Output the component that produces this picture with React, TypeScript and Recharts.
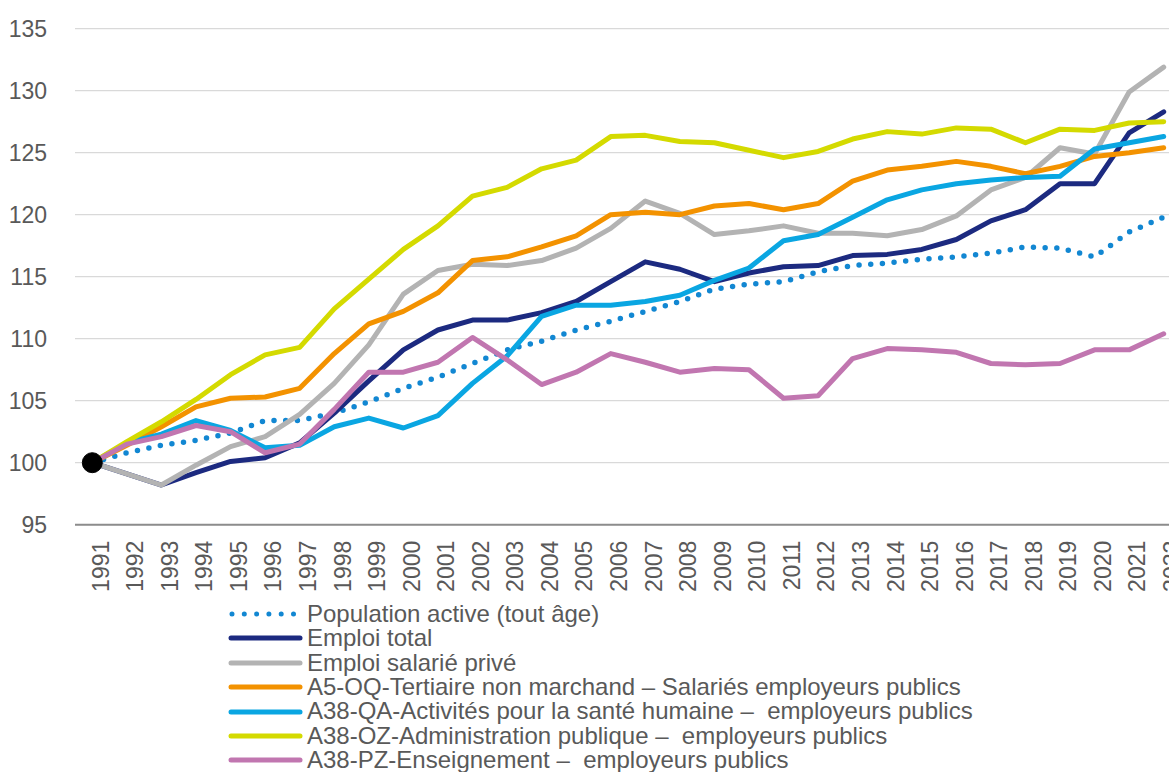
import React from 'react';
import { LineChart, Line, XAxis, YAxis, CartesianGrid, ReferenceDot, Legend } from 'recharts';

const years = [
  '1991', '1992', '1993', '1994', '1995', '1996', '1997', '1998', '1999', '2000',
  '2001', '2002', '2003', '2004', '2005', '2006', '2007', '2008', '2009', '2010',
  '2011', '2012', '2013', '2014', '2015', '2016', '2017', '2018', '2019', '2020',
  '2021', '2022',
];

const populationActive = [
  100, 100.8, 101.4, 101.8, 102.4, 103.4, 103.4, 104.0, 104.9, 106.0,
  106.9, 108.0, 109.1, 109.8, 110.7, 111.4, 112.2, 113.0, 114.0, 114.4,
  114.6, 115.4, 115.9, 116.1, 116.4, 116.6, 116.9, 117.4, 117.3, 116.6,
  118.6, 119.8,
];

const emploiTotal = [
  100, 99.1, 98.2, 99.2, 100.1, 100.4, 101.6, 104.0, 106.6, 109.1,
  110.7, 111.5, 111.5, 112.1, 113.0, 114.6, 116.2, 115.6, 114.6, 115.3,
  115.8, 115.9, 116.7, 116.8, 117.2, 118.0, 119.5, 120.4, 122.5, 122.5,
  126.6, 128.3,
];

const emploiSalariePrive = [
  100, 99.1, 98.2, 99.8, 101.3, 102.1, 103.9, 106.4, 109.5, 113.6,
  115.5, 116.0, 115.9, 116.3, 117.3, 118.9, 121.1, 120.1, 118.4, 118.7,
  119.1, 118.5, 118.5, 118.3, 118.8, 119.9, 122.0, 123.0, 125.4, 124.9,
  129.9, 131.9,
];

const tertiaireNonMarchand = [
  100, 101.4, 102.9, 104.5, 105.2, 105.3, 106.0, 108.8, 111.2, 112.2,
  113.7, 116.3, 116.6, 117.4, 118.3, 120.0, 120.2, 120.0, 120.7, 120.9,
  120.4, 120.9, 122.7, 123.6, 123.9, 124.3, 123.9, 123.3, 123.9, 124.7,
  125.0, 125.4,
];

const santeHumaine = [
  100, 101.6, 102.3, 103.4, 102.6, 101.2, 101.4, 102.9, 103.6, 102.8,
  103.8, 106.4, 108.6, 111.8, 112.7, 112.7, 113.0, 113.5, 114.7, 115.7,
  117.9, 118.4, 119.8, 121.2, 122.0, 122.5, 122.8, 123.0, 123.1, 125.3,
  125.8, 126.3,
];

const administrationPublique = [
  100, 101.7, 103.3, 105.1, 107.1, 108.7, 109.3, 112.4, 114.8, 117.2,
  119.1, 121.5, 122.2, 123.7, 124.4, 126.3, 126.4, 125.9, 125.8, 125.2,
  124.6, 125.1, 126.1, 126.7, 126.5, 127.0, 126.9, 125.8, 126.9, 126.8,
  127.4, 127.5,
];

const enseignement = [
  100, 101.5, 102.1, 103.0, 102.5, 100.8, 101.5, 104.3, 107.3, 107.3,
  108.1, 110.1, 108.3, 106.3, 107.3, 108.8, 108.1, 107.3, 107.6, 107.5,
  105.2, 105.4, 108.4, 109.2, 109.1, 108.9, 108.0, 107.9, 108.0, 109.1,
  109.1, 110.4,
];

const yTicks = [95, 100, 105, 110, 115, 120, 125, 130, 135];

const seriesNames = [
  'Population active (tout âge)',
  'Emploi total',
  'Emploi salarié privé',
  'A5-OQ-Tertiaire non marchand – Salariés employeurs publics',
  'A38-QA-Activités pour la santé humaine –  employeurs publics',
  'A38-OZ-Administration publique –  employeurs publics',
  'A38-PZ-Enseignement –  employeurs publics',
];

const series = [
  { key: 'pop', name: seriesNames[0], color: '#1287d2', values: populationActive, dotted: true },
  { key: 'total', name: seriesNames[1], color: '#1c2a80', values: emploiTotal, dotted: false },
  { key: 'prive', name: seriesNames[2], color: '#b3b3b3', values: emploiSalariePrive, dotted: false },
  { key: 'oq', name: seriesNames[3], color: '#f39200', values: tertiaireNonMarchand, dotted: false },
  { key: 'qa', name: seriesNames[4], color: '#0aa6e2', values: santeHumaine, dotted: false },
  { key: 'oz', name: seriesNames[5], color: '#d4da00', values: administrationPublique, dotted: false },
  { key: 'pz', name: seriesNames[6], color: '#c176b0', values: enseignement, dotted: false },
];

const data = years.map((year, i) => {
  const row: Record<string, string | number> = { year };
  series.forEach((s) => {
    row[s.key] = s.values[i];
  });
  return row;
});

const FONT = '"Liberation Sans", Arial, sans-serif';
const TEXT = '#595959';

const LegendContent = () => (
  <div style={{ fontFamily: FONT, fontSize: 24, color: TEXT }}>
    {series.map((s) => (
      <div key={s.key} style={{ display: 'flex', alignItems: 'center', height: 24.4, lineHeight: '24.4px', whiteSpace: 'pre' }}>
        <svg width={76} height={24} style={{ flex: 'none' }}>
          <line
            x1={s.dotted ? 4 : 3}
            x2={s.dotted ? 68 : 72}
            y1={12}
            y2={12}
            stroke={s.color}
            strokeWidth={5}
            strokeLinecap="round"
            strokeDasharray={s.dotted ? '0 12.3' : undefined}
          />
        </svg>
        <span style={{ marginLeft: 3 }}>{s.name}</span>
      </div>
    ))}
  </div>
);

export default function App() {
  return (
    <div style={{ position: 'absolute', left: 0, top: 0, width: 1169, height: 772, overflow: 'hidden', background: '#fff' }}>
      <LineChart
        width={1181}
        height={772}
        data={data}
        margin={{ top: 28.7, right: 0, bottom: 177.3, left: 0 }}
      >
        <CartesianGrid horizontal vertical={false} stroke="#d9d9d9" strokeWidth={1.2} />
        <XAxis
          dataKey="year"
          interval={0}
          height={70}
          padding={{ left: 17.3, right: 17.3 }}
          axisLine={{ stroke: '#8c8c8c', strokeWidth: 2 }}
          tickLine={false}
          tickSize={0}
          tickMargin={16}
          angle={-90}
          textAnchor="end"
          tick={{ fill: TEXT, fontSize: 23, fontFamily: FONT }}
        />
        <YAxis
          domain={[95, 135]}
          ticks={yTicks}
          width={75}
          axisLine={false}
          tickLine={false}
          tickSize={0}
          tickMargin={28}
          tick={{ fill: TEXT, fontSize: 23, fontFamily: FONT }}
        />
        {series.map((s) => (
          <Line
            key={s.key}
            dataKey={s.key}
            name={s.name}
            stroke={s.color}
            strokeWidth={s.dotted ? 5.5 : 5}
            strokeDasharray={s.dotted ? '0 11.7' : undefined}
            strokeLinecap="round"
            strokeLinejoin="round"
            dot={false}
            activeDot={false}
            isAnimationActive={false}
          />
        ))}
        <ReferenceDot x={years[0]} y={populationActive[0]} r={10} fill="#000" stroke="#000" />
        <Legend
          layout="vertical"
          align="center"
          verticalAlign="middle"
          content={<LegendContent />}
          wrapperStyle={{ left: 228, top: 601.8, width: 900 }}
        />
      </LineChart>
    </div>
  );
}
